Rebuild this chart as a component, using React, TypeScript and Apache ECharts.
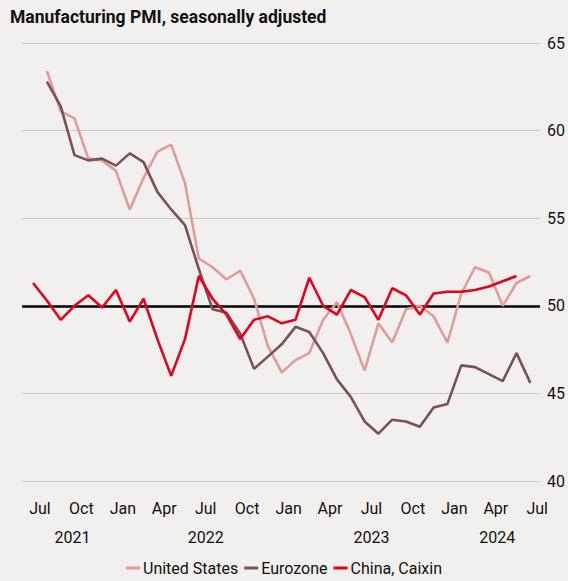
import React, { useEffect, useRef } from "react";
import * as echarts from "echarts";

// Month index 0 = start of July 2021; each reading is plotted mid-month.
const monthNames = ["Jul", "Aug", "Sep", "Oct", "Nov", "Dec", "Jan", "Feb", "Mar", "Apr", "May", "Jun"];
const tickMonths = [0, 3, 6, 9, 12, 15, 18, 21, 24, 27, 30, 33, 36];
const years = [2021, 2022, 2023, 2024];
const yTicks = [40, 45, 50, 55, 60, 65];

// United States, Jul 2021 – Jun 2024
const usValues = [
  63.4, 61.1, 60.7, 58.4, 58.3, 57.7, 55.5, 57.3, 58.8, 59.2, 57.0, 52.7,
  52.2, 51.5, 52.0, 50.4, 47.7, 46.2, 46.9, 47.3, 49.2, 50.2, 48.4, 46.3,
  49.0, 47.9, 49.8, 50.0, 49.4, 47.9, 50.7, 52.2, 51.9, 50.0, 51.3, 51.7,
];
const usStart = 0;

// Eurozone, Jul 2021 – Jun 2024
const euroValues = [
  62.8, 61.4, 58.6, 58.3, 58.4, 58.0, 58.7, 58.2, 56.5, 55.5, 54.6, 52.1,
  49.8, 49.6, 48.4, 46.4, 47.1, 47.8, 48.8, 48.5, 47.3, 45.8, 44.8, 43.4,
  42.7, 43.5, 43.4, 43.1, 44.2, 44.4, 46.6, 46.5, 46.1, 45.7, 47.3, 45.6,
];
const euroStart = 0;

// China (Caixin), Jun 2021 – May 2024
const chinaValues = [
  51.3, 50.3, 49.2, 50.0, 50.6, 49.9, 50.9, 49.1, 50.4, 48.1, 46.0, 48.1,
  51.7, 50.4, 49.5, 48.1, 49.2, 49.4, 49.0, 49.2, 51.6, 50.0, 49.5, 50.9,
  50.5, 49.2, 51.0, 50.6, 49.5, 50.7, 50.8, 50.8, 50.9, 51.1, 51.4, 51.7,
];
const chinaStart = -1;

const seriesNames = ["United States", "Eurozone", "China, Caixin"];
const seriesColors = ["#e29c98", "#7a5255", "#e3001c"];

const X_MIN = -1.3;
const X_MAX = 36.2;
const FONT = "Roboto";

const toPoints = (vals: number[], start: number) =>
  vals.map((v, i) => [start + i + 0.5, v]);

const yearPositions = years.map((y) => {
  const s = Math.max(X_MIN, (y - 2021) * 12 - 6);
  const e = Math.min(X_MAX, (y - 2021) * 12 + 6);
  return (s + e) / 2;
});

export default function App() {
  const ref = useRef<HTMLDivElement>(null);
  useEffect(() => {
    document.body.style.margin = "0";
    const chart = echarts.init(ref.current!, undefined, { renderer: "svg" });
    const lineSeries = (name: string, data: number[][], color: string, extra: any = {}) => ({
      name,
      type: "line",
      data,
      symbol: "none",
      lineStyle: { color, width: 2.6 },
      itemStyle: { color },
      z: 3,
      ...extra,
    });
    chart.setOption({
      animation: false,
      backgroundColor: "#f2f0ee",
      textStyle: { fontFamily: FONT },
      title: {
        text: "Manufacturing PMI, seasonally adjusted",
        left: 5,
        top: 3,
        textStyle: { fontFamily: FONT, fontWeight: "bold", fontSize: 17.5, color: "#111" },
      },
      legend: {
        top: 558,
        left: "center",
        padding: [2, 5, 2, 5],
        icon: "rect",
        itemWidth: 14,
        itemHeight: 3,
        itemGap: 6,
        textStyle: { fontFamily: FONT, fontSize: 16, color: "#111", padding: [0, 0, 0, -2] },
        data: seriesNames,
      },
      grid: { left: 22, right: 28, top: 43, bottom: 100 },
      xAxis: [
        {
          type: "value",
          min: X_MIN,
          max: X_MAX,
          position: "bottom",
          axisLine: { show: false },
          axisTick: { show: false },
          splitLine: { show: false },
          axisLabel: {
            customValues: tickMonths,
            formatter: (v: number) => monthNames[((Math.round(v) % 12) + 12) % 12],
            fontFamily: FONT,
            fontSize: 16,
            color: "#111",
            margin: 19,
          },
        },
        {
          type: "value",
          min: X_MIN,
          max: X_MAX,
          position: "bottom",
          offset: 29,
          axisLine: { show: false },
          axisTick: { show: false },
          splitLine: { show: false },
          axisLabel: {
            customValues: yearPositions,
            formatter: (v: number) => {
              let best = 0;
              yearPositions.forEach((p, i) => {
                if (Math.abs(p - v) < Math.abs(yearPositions[best] - v)) best = i;
              });
              return String(years[best]);
            },
            fontFamily: FONT,
            fontSize: 16,
            color: "#111",
            margin: 19,
          },
        },
      ],
      yAxis: {
        type: "value",
        min: 40,
        max: 65,
        interval: 5,
        position: "right",
        axisLine: { show: false },
        axisTick: { show: false },
        splitLine: { lineStyle: { color: "#cbcbcb", width: 1 } },
        axisLabel: {
          customValues: yTicks,
          fontFamily: FONT,
          fontSize: 16,
          color: "#111",
          margin: 7,
        },
      },
      series: [
        lineSeries(seriesNames[0], toPoints(usValues, usStart), seriesColors[0]),
        lineSeries(seriesNames[1], toPoints(euroValues, euroStart), seriesColors[1]),
        lineSeries(seriesNames[2], toPoints(chinaValues, chinaStart), seriesColors[2], {
          markLine: {
            silent: true,
            symbol: "none",
            label: { show: false },
            lineStyle: { color: "#000", width: 2.5, type: "solid" },
            data: [{ yAxis: 50 }],
            z: 2,
          },
        }),
      ],
    });
    return () => chart.dispose();
  }, []);
  return <div ref={ref} style={{ width: 568, height: 581 }} />;
}
